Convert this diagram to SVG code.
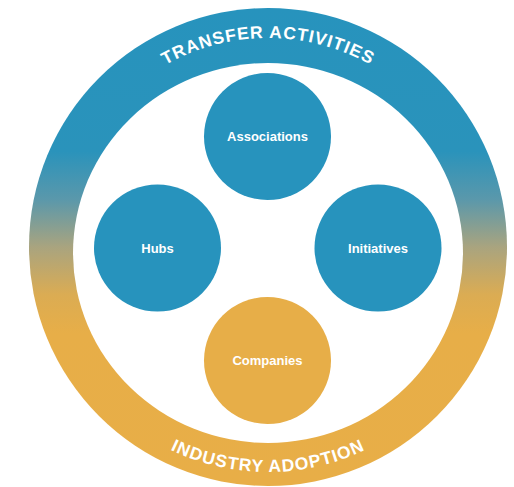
<svg xmlns="http://www.w3.org/2000/svg" width="514" height="487" viewBox="0 0 514 487">
  <defs>
    <linearGradient id="ringGrad" gradientUnits="userSpaceOnUse" x1="0" y1="8" x2="0" y2="486">
      <stop offset="0" stop-color="#2793bd"/>
      <stop offset="0.3" stop-color="#2a93bb"/>
      <stop offset="0.4" stop-color="#5a98ab"/>
      <stop offset="0.5" stop-color="#a9a47f"/>
      <stop offset="0.6" stop-color="#dbac53"/>
      <stop offset="0.68" stop-color="#e7ae48"/>
      <stop offset="1" stop-color="#e8ae47"/>
    </linearGradient>
    <path id="topArc" d="M 59 247 A 209 209 0 0 1 477 247"/>
    <path id="botArc" d="M 43 247 A 225 225 0 0 0 493 247"/>
  </defs>
  <style>
    .blue { fill: #2793bd; }
    .gold { fill: #e7ae48; }
    .label { font-family: "Liberation Sans", Arial, sans-serif; font-weight: bold; font-size: 13px; fill: #ffffff; text-anchor: middle; }
    .ringText { font-family: "Liberation Sans", Arial, sans-serif; font-weight: bold; font-size: 17.5px; fill: #ffffff; letter-spacing: 1px; }
  </style>
  <rect width="514" height="487" fill="#ffffff"/>
  <g id="ring">
    <circle cx="268" cy="247" r="239" fill="url(#ringGrad)"/>
    <ellipse cx="268" cy="253" rx="195" ry="190" fill="#ffffff"/>
    <text class="ringText"><textPath href="#topArc" startOffset="50%" text-anchor="middle">TRANSFER ACTIVITIES</textPath></text>
    <text class="ringText"><textPath href="#botArc" startOffset="50%" text-anchor="middle">INDUSTRY ADOPTION</textPath></text>
  </g>
  <g id="connectors"/>
  <g id="associations">
    <circle class="blue" cx="267.5" cy="136.5" r="63.5"/>
    <text class="label" x="267.5" y="141">Associations</text>
  </g>
  <g id="hubs">
    <circle class="blue" cx="157.5" cy="248" r="63.5"/>
    <text class="label" x="157.5" y="252.5">Hubs</text>
  </g>
  <g id="initiatives">
    <circle class="blue" cx="378" cy="248" r="63.5"/>
    <text class="label" x="378" y="252.5">Initiatives</text>
  </g>
  <g id="companies">
    <circle class="gold" cx="267.5" cy="360.5" r="63.5"/>
    <text class="label" x="267.5" y="365">Companies</text>
  </g>
</svg>
